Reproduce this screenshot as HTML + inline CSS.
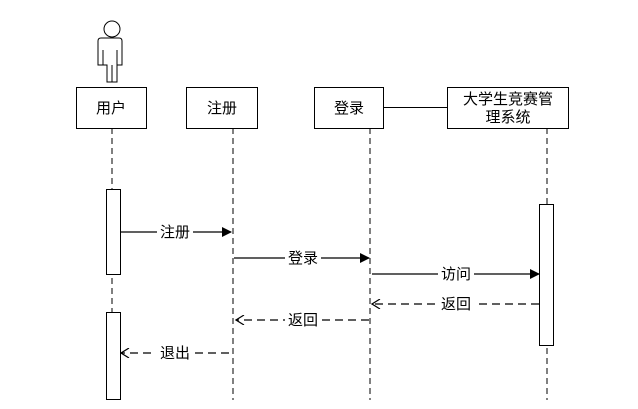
<!DOCTYPE html>
<html><head><meta charset="utf-8"><style>body{margin:0;background:#fff}svg{display:block}text{font-family:"Liberation Sans","Noto Sans CJK SC",sans-serif;font-size:15px;fill:#000}</style></head><body>
<svg width="638" height="409" xmlns="http://www.w3.org/2000/svg">
<defs>
<marker id="f" markerWidth="10" markerHeight="10" refX="9" refY="5" orient="auto" markerUnits="userSpaceOnUse"><path d="M0,0 L10,5 L0,10 z" fill="#000"/></marker>
<marker id="o" markerWidth="10" markerHeight="10" refX="9" refY="5" orient="auto" markerUnits="userSpaceOnUse"><path d="M1,0 L9,5 L1,10" fill="none" stroke="#000" stroke-width="1.2"/></marker>
</defs>
<g fill="none" stroke="#000" stroke-width="1">
<circle cx="112" cy="29" r="8"/>
<path d="M101,38 H119 Q122,38 122,41 V65 H117 V82 H107 V65 H98 V41 Q98,38 101,38 Z"/>
<path d="M103,50 V65 M117,50 V65 M112,65 V82"/>
</g>
<g stroke="#000" stroke-dasharray="6,4" stroke-width="1">
<line x1="112" y1="128" x2="112" y2="400"/>
<line x1="233" y1="128" x2="233" y2="400"/>
<line x1="370" y1="128" x2="370" y2="400"/>
<line x1="547" y1="128" x2="547" y2="400"/>
</g>
<g fill="#fff" stroke="#000" stroke-width="1">
<rect x="76.5" y="87.5" width="70" height="41"/>
<rect x="186.5" y="87.5" width="71" height="41"/>
<rect x="314.5" y="87.5" width="69" height="41"/>
<rect x="447.5" y="87.5" width="121" height="41"/>
<rect x="106.5" y="189.5" width="14" height="85"/>
<rect x="106.5" y="312.5" width="14" height="87"/>
<rect x="539.5" y="204.5" width="14" height="141"/>
</g>
<line x1="383" y1="107.5" x2="447" y2="107.5" stroke="#000"/>
<text x="111" y="113" text-anchor="middle">用户</text>
<text x="222" y="113" text-anchor="middle">注册</text>
<text x="349" y="113" text-anchor="middle">登录</text>
<text x="508" y="104" text-anchor="middle">大学生竞赛管</text>
<text x="508" y="122" text-anchor="middle">理系统</text>
<g stroke="#000" stroke-width="1.3">
<line x1="121" y1="232" x2="231" y2="232" marker-end="url(#f)"/>
<line x1="234" y1="258" x2="369" y2="258" marker-end="url(#f)"/>
<line x1="372" y1="274" x2="539" y2="274" marker-end="url(#f)"/>
<line x1="539" y1="304" x2="372" y2="304" stroke-dasharray="8,5" marker-end="url(#o)"/>
<line x1="369" y1="320" x2="236" y2="320" stroke-dasharray="8,5" marker-end="url(#o)"/>
<line x1="229" y1="353" x2="121" y2="353" stroke-dasharray="8,5" marker-end="url(#o)"/>
</g>
<g>
<rect x="157" y="224" width="36" height="16" fill="#fff"/>
<rect x="285" y="250" width="36" height="16" fill="#fff"/>
<rect x="438" y="266" width="36" height="16" fill="#fff"/>
<rect x="438" y="296" width="36" height="16" fill="#fff"/>
<rect x="285" y="312" width="36" height="16" fill="#fff"/>
<rect x="155" y="345" width="40" height="16" fill="#fff"/>
</g>
<text x="175" y="237" text-anchor="middle">注册</text>
<text x="303" y="263" text-anchor="middle">登录</text>
<text x="456" y="279" text-anchor="middle">访问</text>
<text x="456" y="309" text-anchor="middle">返回</text>
<text x="303" y="325" text-anchor="middle">返回</text>
<text x="175" y="358" text-anchor="middle">退出</text>
</svg>
</body></html>
